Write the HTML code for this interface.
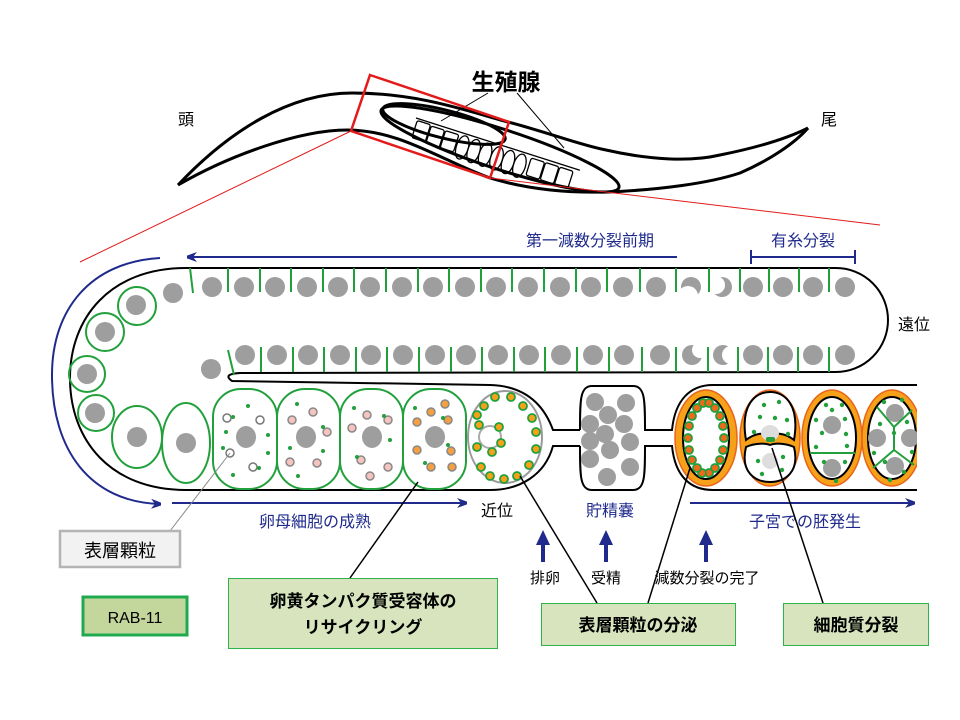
<!DOCTYPE html>
<html><head><meta charset="utf-8"><style>
html,body{margin:0;padding:0;background:#fff;}
svg{display:block;}
text{font-family:"Liberation Sans","Noto Sans CJK JP",sans-serif;}
</style></head><body>
<svg width="960" height="720" viewBox="0 0 960 720" xmlns="http://www.w3.org/2000/svg">
<defs>
<marker id="ah" markerWidth="10" markerHeight="10" refX="9" refY="5" orient="auto" markerUnits="userSpaceOnUse"><path d="M0,0 L14,5 L0,10 L4,5 Z" fill="#1f2a8c"/></marker>
<clipPath id="uc"><rect x="600" y="380" width="317" height="120"/></clipPath>
</defs>

<!-- worm -->
<g fill="none" stroke="#000" stroke-width="3">
<path d="M178,185 C230,130 290,93 352,93 C420,93 470,112 508,122 C550,133 580,145 606,150 C650,160 690,162 720,155 C760,147 790,137 808,128"/>
<path d="M178,185 C230,155 300,130 347,130 C400,130 440,160 490,178 C530,190 570,193 606,192 C660,190 710,183 740,173 C770,160 795,143 808,128"/>
<ellipse cx="444" cy="124" rx="63" ry="14" transform="rotate(14 444 124)"/>
<ellipse cx="500" cy="149" rx="125" ry="20" transform="rotate(18 500 149)"/>
</g>
<g transform="translate(416,118) rotate(17.7)" fill="none" stroke="#000" stroke-width="1.3">
<line x1="0" y1="0" x2="172" y2="0"/>
<rect x="2" y="2" width="14" height="18" rx="2"/><rect x="17" y="3" width="14" height="18" rx="2"/><rect x="32" y="3" width="14" height="18" rx="2"/>
<ellipse cx="53" cy="14" rx="6" ry="12"/><ellipse cx="65" cy="14" rx="6" ry="12"/><ellipse cx="77" cy="14" rx="6" ry="12"/><ellipse cx="89" cy="14" rx="6" ry="12"/><ellipse cx="101" cy="14" rx="6" ry="12"/><ellipse cx="113" cy="14" rx="6" ry="12"/>
<rect x="122" y="3" width="14" height="18" rx="2"/><rect x="137" y="3" width="14" height="18" rx="2"/><rect x="152" y="3" width="14" height="18" rx="2"/>
</g>
<g stroke="#000" stroke-width="1"><line x1="488" y1="93" x2="441" y2="121"/><line x1="517" y1="93" x2="564" y2="148"/></g>
<polygon points="370,75 509,122 490,178 351,131" fill="none" stroke="#e31b1b" stroke-width="2.5"/>
<g stroke="#e31b1b" stroke-width="1"><line x1="351" y1="131" x2="80" y2="262"/><line x1="490" y1="178" x2="880" y2="225"/></g>
<text x="506" y="90" font-size="23" font-weight="bold" text-anchor="middle">生殖腺</text>
<text x="186" y="125" font-size="16" text-anchor="middle">頭</text>
<text x="829" y="125" font-size="16" text-anchor="middle">尾</text>

<!-- navy arrows / labels -->
<g stroke="#1f2a8c" stroke-width="2" fill="none">
<line x1="677" y1="257" x2="188" y2="257" marker-end="url(#ah)"/>
<line x1="751" y1="257" x2="855" y2="257"/><line x1="751" y1="250" x2="751" y2="264"/><line x1="855" y1="250" x2="855" y2="264"/>
<path d="M160,258 C90,262 52,310 52,375 C52,450 90,502 160,504" marker-end="url(#ah)"/>
<line x1="172" y1="503" x2="466" y2="503" marker-end="url(#ah)"/>
<line x1="690" y1="503" x2="914" y2="503" marker-end="url(#ah)"/>
</g>
<g fill="#1f2a8c" font-size="16" text-anchor="middle">
<text x="590" y="246">第一減数分裂前期</text>
<text x="803" y="246">有糸分裂</text>
<text x="315" y="527">卵母細胞の成熟</text>
<text x="610" y="516">貯精嚢</text>
<text x="805" y="527">子宮での胚発生</text>
</g>
<text x="497" y="516" font-size="16" text-anchor="middle">近位</text>
<text x="914" y="330" font-size="16" text-anchor="middle">遠位</text>
<g fill="#1f2a8c"><polygon points="543,530 536,545 541,545 541,562 545,562 545,545 550,545"/><polygon points="606,530 599,545 604,545 604,562 608,562 608,545 613,545"/><polygon points="706,530 699,545 704,545 704,562 708,562 708,545 713,545"/></g>
<g font-size="15" text-anchor="middle"><text x="545" y="583">排卵</text><text x="606" y="583">受精</text><text x="707" y="583">減数分裂の完了</text></g>

<!-- gonad outline -->
<g fill="none" stroke="#000" stroke-width="2">
<path d="M186,268 L836,268 A52,52 0 0 1 836,372 L240,373 Q222,374 232,381 L490,385 C528,386 545,408 553,430 L580,430"/>
<path d="M580,446 L553,446 C545,475 520,490 490,490 L186,490 C110,490 70,440 70,378 C70,318 110,268 186,268"/>
<path d="M580,430 C580,400 580,386 592,386 L633,386 C645,386 645,400 645,430 L672,430 C675,400 690,385 713,385 L917,385"/>
<path d="M580,446 C580,476 580,490 592,490 L633,490 C645,490 645,476 645,446 L672,446 C675,476 690,490 713,490 L917,490"/>
</g>

<!-- germ nuclei top -->
<g fill="#9e9e9e">
<circle cx="173" cy="293" r="10"/>
<circle cx="212" cy="287" r="10"/><circle cx="244" cy="287" r="10"/><circle cx="275" cy="287" r="10"/><circle cx="307" cy="287" r="10"/><circle cx="338" cy="287" r="10"/><circle cx="370" cy="287" r="10"/><circle cx="402" cy="287" r="10"/><circle cx="433" cy="287" r="10"/><circle cx="465" cy="287" r="10"/><circle cx="496" cy="287" r="10"/><circle cx="528" cy="287" r="10"/><circle cx="560" cy="287" r="10"/><circle cx="591" cy="287" r="10"/><circle cx="623" cy="287" r="10"/><circle cx="656" cy="287" r="10"/><circle cx="691" cy="287" r="10"/><circle cx="722" cy="287" r="10"/><circle cx="753" cy="287" r="10"/><circle cx="783" cy="287" r="10"/><circle cx="813" cy="287" r="10"/><circle cx="845" cy="287" r="10"/>
<circle cx="211" cy="369" r="10"/>
<circle cx="245" cy="355" r="10"/><circle cx="277" cy="355" r="10"/><circle cx="308" cy="355" r="10"/><circle cx="340" cy="355" r="10"/><circle cx="371" cy="355" r="10"/><circle cx="403" cy="355" r="10"/><circle cx="435" cy="355" r="10"/><circle cx="466" cy="355" r="10"/><circle cx="498" cy="355" r="10"/><circle cx="529" cy="355" r="10"/><circle cx="561" cy="355" r="10"/><circle cx="593" cy="355" r="10"/><circle cx="624" cy="355" r="10"/><circle cx="660" cy="355" r="10"/><circle cx="692" cy="355" r="10"/><circle cx="723" cy="355" r="10"/><circle cx="753" cy="355" r="10"/><circle cx="783" cy="355" r="10"/><circle cx="813" cy="355" r="10"/><circle cx="845" cy="355" r="10"/>
</g>
<g fill="#fff"><circle cx="688" cy="296" r="10"/><circle cx="716" cy="285" r="9"/><circle cx="700" cy="350" r="8"/><circle cx="731" cy="355" r="9"/></g>
<g stroke="#22a03c" stroke-width="2">
<line x1="190" y1="268" x2="193" y2="293"/>
<line x1="228" y1="268" x2="228" y2="292"/><line x1="260" y1="268" x2="260" y2="292"/><line x1="291" y1="268" x2="291" y2="292"/><line x1="323" y1="268" x2="323" y2="292"/><line x1="354" y1="268" x2="354" y2="292"/><line x1="386" y1="268" x2="386" y2="292"/><line x1="418" y1="268" x2="418" y2="292"/><line x1="449" y1="268" x2="449" y2="292"/><line x1="481" y1="268" x2="481" y2="292"/><line x1="512" y1="268" x2="512" y2="292"/><line x1="544" y1="268" x2="544" y2="292"/><line x1="576" y1="268" x2="576" y2="292"/><line x1="607" y1="268" x2="607" y2="292"/><line x1="640" y1="268" x2="640" y2="292"/><line x1="676" y1="268" x2="676" y2="292"/><line x1="709" y1="268" x2="709" y2="292"/><line x1="740" y1="268" x2="740" y2="292"/><line x1="769" y1="268" x2="769" y2="292"/><line x1="799" y1="268" x2="799" y2="292"/><line x1="829" y1="268" x2="829" y2="292"/>
<line x1="228" y1="350" x2="234" y2="375"/>
<line x1="261" y1="347" x2="261" y2="372"/><line x1="293" y1="347" x2="293" y2="372"/><line x1="324" y1="347" x2="324" y2="372"/><line x1="356" y1="347" x2="356" y2="372"/><line x1="387" y1="347" x2="387" y2="372"/><line x1="419" y1="347" x2="419" y2="372"/><line x1="451" y1="347" x2="451" y2="372"/><line x1="482" y1="347" x2="482" y2="372"/><line x1="514" y1="347" x2="514" y2="372"/><line x1="545" y1="347" x2="545" y2="372"/><line x1="577" y1="347" x2="577" y2="372"/><line x1="609" y1="347" x2="609" y2="372"/><line x1="642" y1="347" x2="642" y2="372"/><line x1="676" y1="347" x2="676" y2="372"/><line x1="708" y1="347" x2="708" y2="372"/><line x1="738" y1="347" x2="738" y2="372"/><line x1="768" y1="347" x2="768" y2="372"/><line x1="798" y1="347" x2="798" y2="372"/><line x1="829" y1="347" x2="829" y2="372"/>
</g>

<!-- loop cells -->
<g fill="none" stroke="#22a03c" stroke-width="2">
<circle cx="137" cy="306" r="19"/><circle cx="105" cy="332" r="19"/><circle cx="87" cy="374" r="18"/><circle cx="96" cy="413" r="18"/>
<ellipse cx="137" cy="437" rx="25" ry="31"/><ellipse cx="186" cy="443" rx="24" ry="40"/>
</g>
<g fill="#9e9e9e"><circle cx="136" cy="305" r="10"/><circle cx="105" cy="332" r="10"/><circle cx="87" cy="374" r="10"/><circle cx="95" cy="413" r="10"/><circle cx="137" cy="437" r="10"/><circle cx="186" cy="443" r="10"/></g>

<!-- oocytes -->
<g fill="#fff" stroke="#22a03c" stroke-width="2">
<rect x="213" y="389" width="64" height="100" rx="28"/><rect x="277" y="389" width="63" height="100" rx="28"/><rect x="340" y="389" width="63" height="100" rx="28"/><rect x="403" y="389" width="63" height="100" rx="28"/>
</g>
<g fill="#9e9e9e"><ellipse cx="246" cy="437" rx="10" ry="11"/><ellipse cx="306" cy="437" rx="10" ry="11"/><ellipse cx="372" cy="437" rx="10" ry="11"/><ellipse cx="435" cy="437" rx="10" ry="11"/></g>
<g stroke="#777" stroke-width="1.5" fill="#fff">
<circle cx="227" cy="418" r="4"/><circle cx="260" cy="420" r="4"/><circle cx="230" cy="453" r="4"/><circle cx="253" cy="467" r="4"/>
</g>
<g stroke="#888" stroke-width="1.5" fill="#f6c4c0">
<circle cx="292" cy="420" r="4"/><circle cx="313" cy="412" r="4"/><circle cx="327" cy="432" r="4"/><circle cx="290" cy="462" r="4"/><circle cx="317" cy="463" r="4"/>
<circle cx="367" cy="415" r="4"/><circle cx="388" cy="420" r="4"/><circle cx="352" cy="428" r="4"/><circle cx="361" cy="460" r="4"/><circle cx="388" cy="467" r="4"/><circle cx="370" cy="476" r="4"/>
</g>
<g stroke="#888" stroke-width="1.5" fill="#f4a040">
<circle cx="431" cy="412" r="4"/><circle cx="445" cy="404" r="4"/><circle cx="448" cy="420" r="4"/><circle cx="417" cy="422" r="4"/><circle cx="417" cy="450" r="4"/><circle cx="451" cy="451" r="4"/><circle cx="431" cy="467" r="4"/><circle cx="452" cy="467" r="4"/>
</g>
<g fill="#22a03c">
<circle cx="248" cy="406" r="2"/><circle cx="233" cy="417" r="2"/><circle cx="226" cy="432" r="2"/><circle cx="268" cy="435" r="2"/><circle cx="223" cy="448" r="2"/><circle cx="268" cy="453" r="2"/><circle cx="259" cy="468" r="2"/><circle cx="233" cy="475" r="2"/>
<circle cx="297" cy="404" r="2"/><circle cx="323" cy="427" r="2"/><circle cx="290" cy="448" r="2"/><circle cx="323" cy="451" r="2"/><circle cx="298" cy="476" r="2"/>
<circle cx="354" cy="408" r="2"/><circle cx="384" cy="416" r="2"/><circle cx="390" cy="440" r="2"/><circle cx="357" cy="457" r="2"/>
<circle cx="415" cy="408" r="2"/><circle cx="443" cy="418" r="2"/><circle cx="448" cy="445" r="2"/><circle cx="425" cy="463" r="2"/>
</g>

<!-- proximal oocyte -->
<ellipse cx="505" cy="437" rx="37" ry="46" fill="#fff" stroke="#999" stroke-width="2"/>
<circle cx="490" cy="437" r="11" fill="#fff" stroke="#aaa" stroke-width="2"/>
<g fill="#f7a11a" stroke="#22a03c" stroke-width="1.8">
<circle cx="479" cy="425" r="4"/><circle cx="499" cy="427" r="4"/><circle cx="501" cy="443" r="4"/><circle cx="492" cy="452" r="4"/><circle cx="477" cy="447" r="4"/>
<circle cx="495" cy="397" r="4"/><circle cx="511" cy="397" r="4"/><circle cx="523" cy="406" r="4"/><circle cx="532" cy="418" r="4"/><circle cx="536" cy="432" r="4"/><circle cx="536" cy="449" r="4"/><circle cx="529" cy="465" r="4"/><circle cx="517" cy="476" r="4"/><circle cx="504" cy="479" r="4"/><circle cx="490" cy="476" r="4"/><circle cx="481" cy="467" r="4"/><circle cx="477" cy="415" r="4"/><circle cx="484" cy="406" r="4"/>
</g>

<!-- spermatheca -->
<g fill="#9e9e9e">
<circle cx="595" cy="402" r="9"/><circle cx="626" cy="403" r="9"/><circle cx="608" cy="415" r="9"/><circle cx="590" cy="424" r="9"/><circle cx="624" cy="424" r="9"/><circle cx="605" cy="434" r="9"/><circle cx="590" cy="441" r="9"/><circle cx="630" cy="442" r="9"/><circle cx="610" cy="450" r="9"/><circle cx="590" cy="459" r="9"/><circle cx="630" cy="467" r="9"/><circle cx="607" cy="477" r="9"/>
</g>

<!-- embryos -->
<g clip-path="url(#uc)">
<g fill="#f7a11a" stroke="#e8641a" stroke-width="1.5">
<ellipse cx="706" cy="438" rx="31" ry="48"/><ellipse cx="770" cy="438" rx="30" ry="48"/><ellipse cx="832" cy="438" rx="30" ry="48"/><ellipse cx="892" cy="438" rx="30" ry="48"/>
</g>
<g fill="#fff" stroke="#000" stroke-width="2">
<ellipse cx="706" cy="438" rx="23" ry="41"/>
<path d="M746,440 C740,405 755,392 770,392 C785,392 800,405 794,440 C785,433 775,432 770,436 C765,432 755,433 746,440 Z"/>
<path d="M746,447 C740,472 755,482 770,482 C785,482 800,472 794,447 C785,443 775,443 770,445 C765,443 755,443 746,447 Z"/>
<ellipse cx="832" cy="438" rx="24" ry="41"/>
<ellipse cx="892" cy="438" rx="24" ry="41"/>
</g>
<g fill="#ee6a1a" stroke="#22a03c" stroke-width="1.8">
<circle cx="724" cy="438" r="4"/><circle cx="723" cy="450" r="4"/><circle cx="720" cy="460" r="4"/><circle cx="715" cy="468" r="4"/><circle cx="709" cy="473" r="4"/><circle cx="702" cy="473" r="4"/><circle cx="697" cy="468" r="4"/><circle cx="692" cy="460" r="4"/><circle cx="689" cy="450" r="4"/><circle cx="688" cy="438" r="4"/><circle cx="689" cy="426" r="4"/><circle cx="692" cy="416" r="4"/><circle cx="697" cy="408" r="4"/><circle cx="703" cy="403" r="4"/><circle cx="709" cy="403" r="4"/><circle cx="715" cy="408" r="4"/><circle cx="720" cy="416" r="4"/><circle cx="723" cy="426" r="4"/>
</g>
<g fill="#ddd"><ellipse cx="770" cy="433" rx="9" ry="8"/><ellipse cx="770" cy="461" rx="8" ry="8"/></g>
<g fill="#9e9e9e"><circle cx="832" cy="425" r="9"/><circle cx="832" cy="468" r="9"/><circle cx="895" cy="413" r="9"/><circle cx="877" cy="438" r="9"/><circle cx="910" cy="438" r="9"/><circle cx="895" cy="466" r="9"/></g>
<g stroke="#22a03c" stroke-width="2" fill="none">
<line x1="810" y1="453" x2="855" y2="453"/>
<path d="M877,407 L894,427 L912,410 M894,427 L894,450 L873,468 M894,450 L914,465"/>
</g>
<g fill="#22a03c">
<rect x="766" y="437" width="9" height="5" rx="2"/>
<circle cx="764" cy="405" r="2.2"/><circle cx="779" cy="402" r="2.2"/><circle cx="760" cy="417" r="2.2"/><circle cx="775" cy="418" r="2.2"/><circle cx="787" cy="420" r="2.2"/><circle cx="754" cy="432" r="2.2"/><circle cx="788" cy="434" r="2.2"/><circle cx="758" cy="461" r="2.2"/><circle cx="783" cy="457" r="2.2"/><circle cx="782" cy="470" r="2.2"/><circle cx="762" cy="474" r="2.2"/>
<circle cx="826" cy="405" r="2.2"/><circle cx="842" cy="405" r="2.2"/><circle cx="816" cy="420" r="2.2"/><circle cx="832" cy="410" r="2.2"/><circle cx="845" cy="419" r="2.2"/><circle cx="822" cy="433" r="2.2"/><circle cx="846" cy="434" r="2.2"/><circle cx="816" cy="447" r="2.2"/><circle cx="847" cy="446" r="2.2"/><circle cx="824" cy="462" r="2.2"/><circle cx="845" cy="462" r="2.2"/><circle cx="836" cy="481" r="2.2"/>
<circle cx="884" cy="402" r="2.2"/><circle cx="902" cy="400" r="2.2"/><circle cx="880" cy="424" r="2.2"/><circle cx="907" cy="422" r="2.2"/><circle cx="894" cy="433" r="2.2"/><circle cx="874" cy="453" r="2.2"/><circle cx="912" cy="452" r="2.2"/><circle cx="885" cy="462" r="2.2"/><circle cx="904" cy="472" r="2.2"/><circle cx="890" cy="480" r="2.2"/>
</g>
</g>

<!-- leader lines -->
<line x1="170" y1="531" x2="230" y2="453" stroke="#888" stroke-width="1"/>
<g stroke="#000" stroke-width="1.5">
<line x1="350" y1="578" x2="418" y2="482"/>
<line x1="597" y1="603" x2="520" y2="476"/>
<line x1="648" y1="603" x2="690" y2="468"/>
<line x1="823" y1="603" x2="772" y2="448"/>
</g>

<!-- boxes -->
<rect x="60" y="531" width="120" height="36" fill="#f2f2f2" stroke="#b4b4b4" stroke-width="2.5"/>
<text x="120" y="557" font-size="18" text-anchor="middle">表層顆粒</text>
<rect x="83" y="597" width="104" height="38" fill="#c3d69b" stroke="#1faa4f" stroke-width="3"/>
<text x="135" y="623" font-size="16" text-anchor="middle">RAB-11</text>
<rect x="228.5" y="578.5" width="269" height="70" fill="#d7e4bd" stroke="#2db34a" stroke-width="1"/>
<text x="363" y="607" font-size="17" font-weight="bold" text-anchor="middle">卵黄タンパク質受容体の</text>
<text x="363" y="633" font-size="17" font-weight="bold" text-anchor="middle">リサイクリング</text>
<rect x="541.5" y="603.5" width="194" height="42" fill="#d7e4bd" stroke="#2db34a" stroke-width="1"/>
<text x="638" y="631" font-size="17" font-weight="bold" text-anchor="middle">表層顆粒の分泌</text>
<rect x="783.5" y="603.5" width="145" height="42" fill="#d7e4bd" stroke="#2db34a" stroke-width="1"/>
<text x="856" y="631" font-size="17" font-weight="bold" text-anchor="middle">細胞質分裂</text>
</svg>
</body></html>
